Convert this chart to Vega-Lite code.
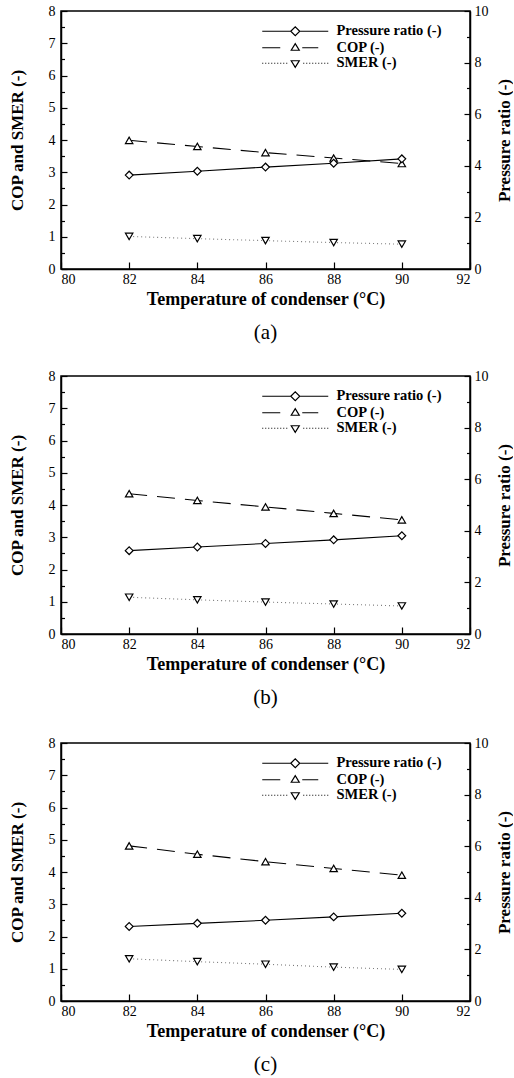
{
  "$schema": "https://vega.github.io/schema/vega-lite/v6.json",
  "padding": {"left": 7, "top": 3, "right": 0, "bottom": 0},
  "background": "white",
  "datasets": {
    "a": [
      {"T": 82, "series": "Pressure ratio (-)", "value": 3.64},
      {"T": 84, "series": "Pressure ratio (-)", "value": 3.79},
      {"T": 86, "series": "Pressure ratio (-)", "value": 3.95},
      {"T": 88, "series": "Pressure ratio (-)", "value": 4.10},
      {"T": 90, "series": "Pressure ratio (-)", "value": 4.27},
      {"T": 82, "series": "COP (-)", "value": 3.99},
      {"T": 84, "series": "COP (-)", "value": 3.80},
      {"T": 86, "series": "COP (-)", "value": 3.61},
      {"T": 88, "series": "COP (-)", "value": 3.44},
      {"T": 90, "series": "COP (-)", "value": 3.27},
      {"T": 82, "series": "SMER  (-)", "value": 1.01},
      {"T": 84, "series": "SMER  (-)", "value": 0.94},
      {"T": 86, "series": "SMER  (-)", "value": 0.88},
      {"T": 88, "series": "SMER  (-)", "value": 0.82},
      {"T": 90, "series": "SMER  (-)", "value": 0.77}
    ],
    "b": [
      {"T": 82, "series": "Pressure ratio (-)", "value": 3.23},
      {"T": 84, "series": "Pressure ratio (-)", "value": 3.37},
      {"T": 86, "series": "Pressure ratio (-)", "value": 3.51},
      {"T": 88, "series": "Pressure ratio (-)", "value": 3.65},
      {"T": 90, "series": "Pressure ratio (-)", "value": 3.81},
      {"T": 82, "series": "COP (-)", "value": 4.35},
      {"T": 84, "series": "COP (-)", "value": 4.14},
      {"T": 86, "series": "COP (-)", "value": 3.94},
      {"T": 88, "series": "COP (-)", "value": 3.74},
      {"T": 90, "series": "COP (-)", "value": 3.54},
      {"T": 82, "series": "SMER  (-)", "value": 1.14},
      {"T": 84, "series": "SMER  (-)", "value": 1.06},
      {"T": 86, "series": "SMER  (-)", "value": 0.99},
      {"T": 88, "series": "SMER  (-)", "value": 0.93},
      {"T": 90, "series": "SMER  (-)", "value": 0.87}
    ],
    "c": [
      {"T": 82, "series": "Pressure ratio (-)", "value": 2.89},
      {"T": 84, "series": "Pressure ratio (-)", "value": 3.01},
      {"T": 86, "series": "Pressure ratio (-)", "value": 3.13},
      {"T": 88, "series": "Pressure ratio (-)", "value": 3.26},
      {"T": 90, "series": "Pressure ratio (-)", "value": 3.40},
      {"T": 82, "series": "COP (-)", "value": 4.81},
      {"T": 84, "series": "COP (-)", "value": 4.55},
      {"T": 86, "series": "COP (-)", "value": 4.32},
      {"T": 88, "series": "COP (-)", "value": 4.11},
      {"T": 90, "series": "COP (-)", "value": 3.90},
      {"T": 82, "series": "SMER  (-)", "value": 1.31},
      {"T": 84, "series": "SMER  (-)", "value": 1.22},
      {"T": 86, "series": "SMER  (-)", "value": 1.14},
      {"T": 88, "series": "SMER  (-)", "value": 1.05},
      {"T": 90, "series": "SMER  (-)", "value": 0.98}
    ]
  },
  "resolve": {"scale": {"shape": "independent"}, "legend": {"shape": "independent"}},
  "vconcat": [
    {
      "spacing": 24,
      "resolve": {"scale": {"shape": "independent"}, "legend": {"shape": "independent"}},
      "vconcat": [
        {
          "data": {"name": "a"},
          "width": 409, "height": 258,
          "title": {"text": "(a)", "orient": "bottom", "anchor": "middle", "fontSize": 21, "fontWeight": "normal", "offset": 14, "color": "black", "font": "Liberation Serif"},
          "resolve": {"scale": {"y": "independent", "shape": "independent"}, "legend": {"shape": "independent"}},
          "layer": [
            {
              "resolve": {"axis": {"y": "independent"}},
              "layer": [
                {
                  "transform": [{"filter": {"field": "series", "equal": "COP (-)"}}],
                  "mark": {"type": "line", "stroke": "black", "strokeWidth": 1.1, "strokeDash": [18, 10]},
                  "encoding": {
                    "x": {"field": "T", "type": "quantitative", "scale": {"domain": [80, 92]}, "axis": {"values": [80, 82, 84, 86, 88, 90, 92], "format": "d", "title": "Temperature of condenser (°C)", "tickSize": -7, "labelPadding": 10, "titlePadding": 4, "titleFontSize": 18}},
                    "y": {"field": "value", "type": "quantitative", "scale": {"domain": [0, 8]}, "axis": {"orient": "left", "values": [0, 1, 2, 3, 4, 5, 6, 7, 8], "format": "d", "title": "COP and SMER (-)", "tickSize": -6, "labelPadding": 12, "titlePadding": 22}}
                  }
                },
                {
                  "transform": [{"filter": {"field": "series", "equal": "SMER  (-)"}}],
                  "mark": {"type": "line", "stroke": "#7a7a7a", "strokeWidth": 1.1, "strokeDash": [1, 3]},
                  "encoding": {
                    "x": {"field": "T", "type": "quantitative"},
                    "y": {"field": "value", "type": "quantitative", "axis": null}
                  }
                },
                {
                  "transform": [{"filter": {"field": "series", "oneOf": ["COP (-)", "SMER  (-)"]}}],
                  "mark": {"type": "point", "filled": true, "fill": "white", "stroke": "black", "strokeWidth": 1.2, "size": 55, "opacity": 1},
                  "encoding": {
                    "x": {"field": "T", "type": "quantitative"},
                    "y": {"field": "value", "type": "quantitative", "axis": {"orient": "left", "values": [0.5, 1.5, 2.5, 3.5, 4.5, 5.5, 6.5, 7.5], "labels": false, "domain": false, "title": null, "tickSize": -3.5}},
                    "shape": {"field": "series", "type": "nominal", "scale": {"domain": ["Pressure ratio (-)", "COP (-)", "SMER  (-)"], "range": ["diamond", "triangle-up", "triangle-down"]}, "legend": null}
                  }
                }
              ]
            },
            {
              "transform": [{"filter": {"field": "series", "equal": "Pressure ratio (-)"}}],
              "resolve": {"axis": {"y": "independent"}},
              "layer": [
                {
                  "mark": {"type": "line", "stroke": "black", "strokeWidth": 1.1},
                  "encoding": {
                    "x": {"field": "T", "type": "quantitative"},
                    "y": {"field": "value", "type": "quantitative", "scale": {"domain": [0, 10]}, "axis": {"orient": "right", "values": [0, 2, 4, 6, 8, 10], "format": "d", "title": "Pressure ratio (-)", "titleAngle": 270, "tickSize": -6, "labelPadding": 10, "titlePadding": 25}}
                  }
                },
                {
                  "mark": {"type": "point", "filled": true, "fill": "white", "stroke": "black", "strokeWidth": 1.2, "size": 60, "opacity": 1},
                  "encoding": {
                    "x": {"field": "T", "type": "quantitative"},
                    "y": {"field": "value", "type": "quantitative", "axis": {"orient": "right", "values": [1, 3, 5, 7, 9], "labels": false, "domain": false, "title": null, "tickSize": -3.5}},
                    "shape": {"field": "series", "type": "nominal", "scale": {"domain": ["Pressure ratio (-)", "COP (-)", "SMER  (-)"], "range": ["diamond", "triangle-up", "triangle-down"]}, "legend": null}
                  }
                }
              ]
            },
            {
              "mark": {"type": "point", "filled": false, "stroke": "black", "strokeWidth": 1.2, "size": 0, "opacity": 0},
              "encoding": {
                "x": {"field": "T", "type": "quantitative"},
                "shape": {"field": "series", "type": "nominal",
                  "scale": {"domain": ["Pressure ratio (-)", "COP (-)", "SMER  (-)"], "range": [
                    "M-33,0L-4.5,0M4.5,0L33,0M-4.5,0L0,-4.5L4.5,0L0,4.5Z",
                    "M-33,0L-15,0M7,0L23,0M-4,2.5L4,2.5L0,-4Z",
                    "M-33,0L-32,0M-30,0L-29,0M-27,0L-26,0M-24,0L-23,0M-21,0L-20,0M-18,0L-17,0M-15,0L-14,0M-12,0L-11,0M-9,0L-8,0M8,0L9,0M11,0L12,0M14,0L15,0M17,0L18,0M20,0L21,0M23,0L24,0M26,0L27,0M29,0L30,0M32,0L33,0M-4,-2.5L4,-2.5L0,4Z"]},
                  "legend": {"orient": "none", "legendX": 227, "legendY": 13, "title": null, "padding": 0, "symbolSize": 4, "symbolOpacity": 1, "labelOffset": 34, "rowPadding": 0.5, "labelFont": "Liberation Serif", "labelFontSize": 14.5, "labelFontWeight": "bold", "labelColor": "black", "labelLimit": 300, "symbolFillColor": "transparent", "symbolStrokeColor": "black", "symbolStrokeWidth": 1.2,
                    "encode": {"symbols": {"size": {"value": 4}, "opacity": {"value": 1}, "stroke": {"value": "black"}, "strokeWidth": {"value": 1.2}}}}}
              }
            }
          ]
        },
        {
          "data": {"name": "b"},
          "width": 409, "height": 258,
          "title": {"text": "(b)", "orient": "bottom", "anchor": "middle", "fontSize": 21, "fontWeight": "normal", "offset": 14, "color": "black", "font": "Liberation Serif"},
          "resolve": {"scale": {"y": "independent", "shape": "independent"}, "legend": {"shape": "independent"}},
          "layer": [
            {
              "resolve": {"axis": {"y": "independent"}},
              "layer": [
                {
                  "transform": [{"filter": {"field": "series", "equal": "COP (-)"}}],
                  "mark": {"type": "line", "stroke": "black", "strokeWidth": 1.1, "strokeDash": [18, 10]},
                  "encoding": {
                    "x": {"field": "T", "type": "quantitative", "scale": {"domain": [80, 92]}, "axis": {"values": [80, 82, 84, 86, 88, 90, 92], "format": "d", "title": "Temperature of condenser (°C)", "tickSize": -7, "labelPadding": 10, "titlePadding": 4, "titleFontSize": 18}},
                    "y": {"field": "value", "type": "quantitative", "scale": {"domain": [0, 8]}, "axis": {"orient": "left", "values": [0, 1, 2, 3, 4, 5, 6, 7, 8], "format": "d", "title": "COP and SMER (-)", "tickSize": -6, "labelPadding": 12, "titlePadding": 22}}
                  }
                },
                {
                  "transform": [{"filter": {"field": "series", "equal": "SMER  (-)"}}],
                  "mark": {"type": "line", "stroke": "#7a7a7a", "strokeWidth": 1.1, "strokeDash": [1, 3]},
                  "encoding": {
                    "x": {"field": "T", "type": "quantitative"},
                    "y": {"field": "value", "type": "quantitative", "axis": null}
                  }
                },
                {
                  "transform": [{"filter": {"field": "series", "oneOf": ["COP (-)", "SMER  (-)"]}}],
                  "mark": {"type": "point", "filled": true, "fill": "white", "stroke": "black", "strokeWidth": 1.2, "size": 55, "opacity": 1},
                  "encoding": {
                    "x": {"field": "T", "type": "quantitative"},
                    "y": {"field": "value", "type": "quantitative", "axis": {"orient": "left", "values": [0.5, 1.5, 2.5, 3.5, 4.5, 5.5, 6.5, 7.5], "labels": false, "domain": false, "title": null, "tickSize": -3.5}},
                    "shape": {"field": "series", "type": "nominal", "scale": {"domain": ["Pressure ratio (-)", "COP (-)", "SMER  (-)"], "range": ["diamond", "triangle-up", "triangle-down"]}, "legend": null}
                  }
                }
              ]
            },
            {
              "transform": [{"filter": {"field": "series", "equal": "Pressure ratio (-)"}}],
              "resolve": {"axis": {"y": "independent"}},
              "layer": [
                {
                  "mark": {"type": "line", "stroke": "black", "strokeWidth": 1.1},
                  "encoding": {
                    "x": {"field": "T", "type": "quantitative"},
                    "y": {"field": "value", "type": "quantitative", "scale": {"domain": [0, 10]}, "axis": {"orient": "right", "values": [0, 2, 4, 6, 8, 10], "format": "d", "title": "Pressure ratio (-)", "titleAngle": 270, "tickSize": -6, "labelPadding": 10, "titlePadding": 25}}
                  }
                },
                {
                  "mark": {"type": "point", "filled": true, "fill": "white", "stroke": "black", "strokeWidth": 1.2, "size": 60, "opacity": 1},
                  "encoding": {
                    "x": {"field": "T", "type": "quantitative"},
                    "y": {"field": "value", "type": "quantitative", "axis": {"orient": "right", "values": [1, 3, 5, 7, 9], "labels": false, "domain": false, "title": null, "tickSize": -3.5}},
                    "shape": {"field": "series", "type": "nominal", "scale": {"domain": ["Pressure ratio (-)", "COP (-)", "SMER  (-)"], "range": ["diamond", "triangle-up", "triangle-down"]}, "legend": null}
                  }
                }
              ]
            },
            {
              "mark": {"type": "point", "filled": false, "stroke": "black", "strokeWidth": 1.2, "size": 0, "opacity": 0},
              "encoding": {
                "x": {"field": "T", "type": "quantitative"},
                "shape": {"field": "series", "type": "nominal",
                  "scale": {"domain": ["Pressure ratio (-)", "COP (-)", "SMER  (-)"], "range": [
                    "M-33,0L-4.5,0M4.5,0L33,0M-4.5,0L0,-4.5L4.5,0L0,4.5Z",
                    "M-33,0L-15,0M7,0L23,0M-4,2.5L4,2.5L0,-4Z",
                    "M-33,0L-32,0M-30,0L-29,0M-27,0L-26,0M-24,0L-23,0M-21,0L-20,0M-18,0L-17,0M-15,0L-14,0M-12,0L-11,0M-9,0L-8,0M8,0L9,0M11,0L12,0M14,0L15,0M17,0L18,0M20,0L21,0M23,0L24,0M26,0L27,0M29,0L30,0M32,0L33,0M-4,-2.5L4,-2.5L0,4Z"]},
                  "legend": {"orient": "none", "legendX": 227, "legendY": 13, "title": null, "padding": 0, "symbolSize": 4, "symbolOpacity": 1, "labelOffset": 34, "rowPadding": 0.5, "labelFont": "Liberation Serif", "labelFontSize": 14.5, "labelFontWeight": "bold", "labelColor": "black", "labelLimit": 300, "symbolFillColor": "transparent", "symbolStrokeColor": "black", "symbolStrokeWidth": 1.2,
                    "encode": {"symbols": {"size": {"value": 4}, "opacity": {"value": 1}, "stroke": {"value": "black"}, "strokeWidth": {"value": 1.2}}}}}
              }
            }
          ]
        }
      ]
    },
    {
      "data": {"name": "c"},
      "width": 409, "height": 258,
      "title": {"text": "(c)", "orient": "bottom", "anchor": "middle", "fontSize": 21, "fontWeight": "normal", "offset": 14, "color": "black", "font": "Liberation Serif"},
      "resolve": {"scale": {"y": "independent", "shape": "independent"}, "legend": {"shape": "independent"}},
      "layer": [
        {
          "resolve": {"axis": {"y": "independent"}},
          "layer": [
            {
              "transform": [{"filter": {"field": "series", "equal": "COP (-)"}}],
              "mark": {"type": "line", "stroke": "black", "strokeWidth": 1.1, "strokeDash": [18, 10]},
              "encoding": {
                "x": {"field": "T", "type": "quantitative", "scale": {"domain": [80, 92]}, "axis": {"values": [80, 82, 84, 86, 88, 90, 92], "format": "d", "title": "Temperature of condenser (°C)", "tickSize": -7, "labelPadding": 10, "titlePadding": 4, "titleFontSize": 18}},
                "y": {"field": "value", "type": "quantitative", "scale": {"domain": [0, 8]}, "axis": {"orient": "left", "values": [0, 1, 2, 3, 4, 5, 6, 7, 8], "format": "d", "title": "COP and SMER (-)", "tickSize": -6, "labelPadding": 12, "titlePadding": 22}}
              }
            },
            {
              "transform": [{"filter": {"field": "series", "equal": "SMER  (-)"}}],
              "mark": {"type": "line", "stroke": "#7a7a7a", "strokeWidth": 1.1, "strokeDash": [1, 3]},
              "encoding": {
                "x": {"field": "T", "type": "quantitative"},
                "y": {"field": "value", "type": "quantitative", "axis": null}
              }
            },
            {
              "transform": [{"filter": {"field": "series", "oneOf": ["COP (-)", "SMER  (-)"]}}],
              "mark": {"type": "point", "filled": true, "fill": "white", "stroke": "black", "strokeWidth": 1.2, "size": 55, "opacity": 1},
              "encoding": {
                "x": {"field": "T", "type": "quantitative"},
                "y": {"field": "value", "type": "quantitative", "axis": {"orient": "left", "values": [0.5, 1.5, 2.5, 3.5, 4.5, 5.5, 6.5, 7.5], "labels": false, "domain": false, "title": null, "tickSize": -3.5}},
                "shape": {"field": "series", "type": "nominal", "scale": {"domain": ["Pressure ratio (-)", "COP (-)", "SMER  (-)"], "range": ["diamond", "triangle-up", "triangle-down"]}, "legend": null}
              }
            }
          ]
        },
        {
          "transform": [{"filter": {"field": "series", "equal": "Pressure ratio (-)"}}],
          "resolve": {"axis": {"y": "independent"}},
          "layer": [
            {
              "mark": {"type": "line", "stroke": "black", "strokeWidth": 1.1},
              "encoding": {
                "x": {"field": "T", "type": "quantitative"},
                "y": {"field": "value", "type": "quantitative", "scale": {"domain": [0, 10]}, "axis": {"orient": "right", "values": [0, 2, 4, 6, 8, 10], "format": "d", "title": "Pressure ratio (-)", "titleAngle": 270, "tickSize": -6, "labelPadding": 10, "titlePadding": 25}}
              }
            },
            {
              "mark": {"type": "point", "filled": true, "fill": "white", "stroke": "black", "strokeWidth": 1.2, "size": 60, "opacity": 1},
              "encoding": {
                "x": {"field": "T", "type": "quantitative"},
                "y": {"field": "value", "type": "quantitative", "axis": {"orient": "right", "values": [1, 3, 5, 7, 9], "labels": false, "domain": false, "title": null, "tickSize": -3.5}},
                "shape": {"field": "series", "type": "nominal", "scale": {"domain": ["Pressure ratio (-)", "COP (-)", "SMER  (-)"], "range": ["diamond", "triangle-up", "triangle-down"]}, "legend": null}
              }
            }
          ]
        },
        {
          "mark": {"type": "point", "filled": false, "stroke": "black", "strokeWidth": 1.2, "size": 0, "opacity": 0},
          "encoding": {
            "x": {"field": "T", "type": "quantitative"},
            "shape": {"field": "series", "type": "nominal",
              "scale": {"domain": ["Pressure ratio (-)", "COP (-)", "SMER  (-)"], "range": [
                "M-33,0L-4.5,0M4.5,0L33,0M-4.5,0L0,-4.5L4.5,0L0,4.5Z",
                "M-33,0L-15,0M7,0L23,0M-4,2.5L4,2.5L0,-4Z",
                "M-33,0L-32,0M-30,0L-29,0M-27,0L-26,0M-24,0L-23,0M-21,0L-20,0M-18,0L-17,0M-15,0L-14,0M-12,0L-11,0M-9,0L-8,0M8,0L9,0M11,0L12,0M14,0L15,0M17,0L18,0M20,0L21,0M23,0L24,0M26,0L27,0M29,0L30,0M32,0L33,0M-4,-2.5L4,-2.5L0,4Z"]},
              "legend": {"orient": "none", "legendX": 227, "legendY": 13, "title": null, "padding": 0, "symbolSize": 4, "symbolOpacity": 1, "labelOffset": 34, "rowPadding": 0.5, "labelFont": "Liberation Serif", "labelFontSize": 14.5, "labelFontWeight": "bold", "labelColor": "black", "labelLimit": 300, "symbolFillColor": "transparent", "symbolStrokeColor": "black", "symbolStrokeWidth": 1.2,
                "encode": {"symbols": {"size": {"value": 4}, "opacity": {"value": 1}, "stroke": {"value": "black"}, "strokeWidth": {"value": 1.2}}}}}
          }
        }
      ]
    }
  ],
  "spacing": 26,
  "config": {
    "font": "Liberation Serif",
    "view": {"stroke": "black", "strokeWidth": 1.5},
    "axis": {"grid": false, "labelFont": "Liberation Serif", "labelFontSize": 14, "labelColor": "black", "titleFont": "Liberation Serif", "titleFontSize": 17, "titleFontWeight": "bold", "titleColor": "black", "domainColor": "black", "domainWidth": 1.5, "tickColor": "black", "tickWidth": 1.2}
  }
}
